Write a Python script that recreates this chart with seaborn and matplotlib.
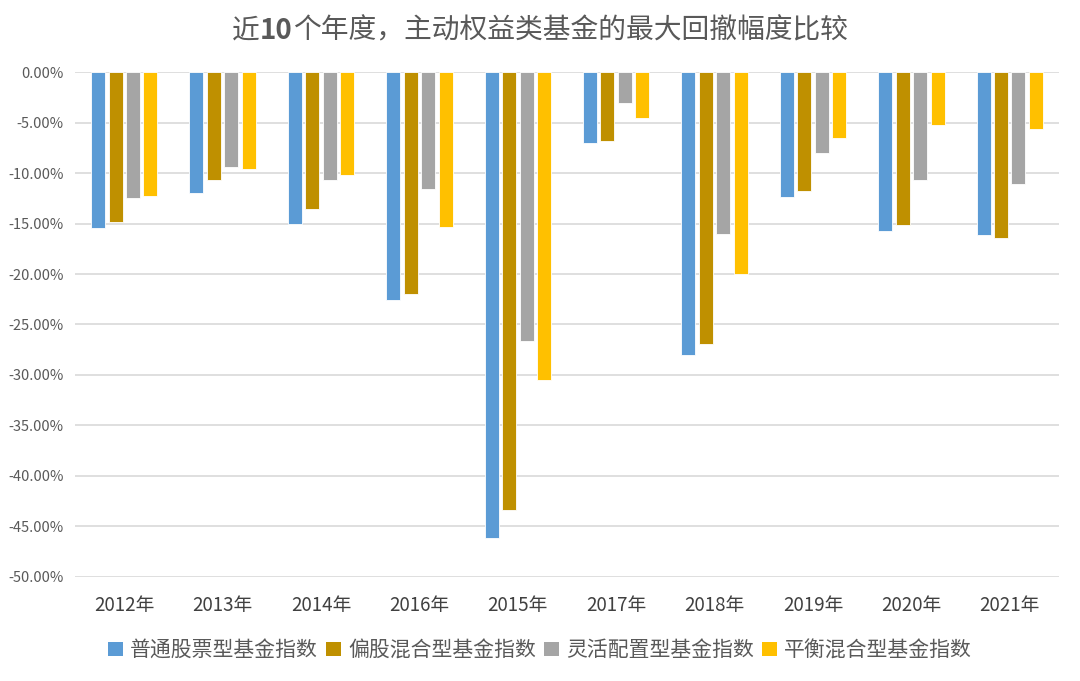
import pandas as pd
import matplotlib.pyplot as plt
import seaborn as sns
from matplotlib.ticker import FuncFormatter
from matplotlib.patches import Patch

# data (max drawdown, %)
years = ["2012年", "2013年", "2014年", "2016年", "2015年", "2017年", "2018年", "2019年", "2020年", "2021年"]
series = ["普通股票型基金指数", "偏股混合型基金指数", "灵活配置型基金指数", "平衡混合型基金指数"]
stock = [-15.45, -12.0, -15.05, -22.6, -46.2, -7.0, -28.0, -12.35, -15.7, -16.1]
partial = [-14.85, -10.65, -13.6, -21.95, -43.4, -6.8, -26.9, -11.8, -15.1, -16.4]
flexible = [-12.45, -9.4, -10.65, -11.55, -26.6, -3.1, -16.0, -8.0, -10.65, -11.1]
balanced = [-12.25, -9.6, -10.2, -15.35, -30.5, -4.55, -20.0, -6.55, -5.25, -5.6]
colors = ["#5B9BD5", "#BF9000", "#A5A5A5", "#FFC000"]

df = pd.DataFrame({
    "year": years * 4,
    "fund": [s for s in series for _ in years],
    "value": stock + partial + flexible + balanced,
})

sns.set_theme(style="white")
plt.rcParams["font.family"] = ["Noto Sans CJK SC", "DejaVu Sans"]

fig = plt.figure(figsize=(10.8, 6.81), dpi=100)
ax = fig.add_axes([0.0695, 0.153, 0.911, 0.741])

sns.barplot(data=df, x="year", y="value", hue="fund", order=years, hue_order=series,
            palette=colors, saturation=1, width=0.71, gap=0.2, edgecolor="white",
            linewidth=0.6, legend=False, ax=ax)

ax.set_ylim(-50, 0)
ax.set_yticks(range(-50, 1, 5))
ax.yaxis.set_major_formatter(FuncFormatter(lambda v, p: f"{v:.2f}%"))
ax.grid(axis="y", color="#D9D9D9", linewidth=1.2)
ax.set_axisbelow(True)
for s in ax.spines.values():
    s.set_visible(False)
ax.set_xlabel("")
ax.set_ylabel("")
ax.tick_params(axis="y", labelsize=10.5, labelcolor="#595959", length=0, pad=8)
ax.tick_params(axis="x", labelsize=13.5, labelcolor="#404040", length=0, pad=13)
ax.set_xlim(-0.5, len(years) - 0.5)

# title: regular CJK with bold "10", centred as a whole
parts = [("近", "normal"), ("10", "bold"), ("个年度，主动权益类基金的最大回撤幅度比较", "normal")]
renderer = fig.canvas.get_renderer()
texts = []
for s, w in parts:
    texts.append(fig.text(0, 0.955, s, ha="left", va="center", fontsize=20,
                          fontweight=w, color="#595959"))
widths = [t.get_window_extent(renderer).width for t in texts]
x = (fig.bbox.width - sum(widths)) / 2
for t, w in zip(texts, widths):
    t.set_x(x / fig.bbox.width)
    x += w

handles = [Patch(facecolor=c, edgecolor="none") for c in colors]
fig.legend(handles, series, loc="center", bbox_to_anchor=(0.5, 0.045), ncol=4, frameon=False,
           fontsize=15, labelcolor="#595959", handlelength=0.7, handleheight=0.7,
           handletextpad=0.35, columnspacing=0.4)

fig.savefig("out.png", dpi=100)
